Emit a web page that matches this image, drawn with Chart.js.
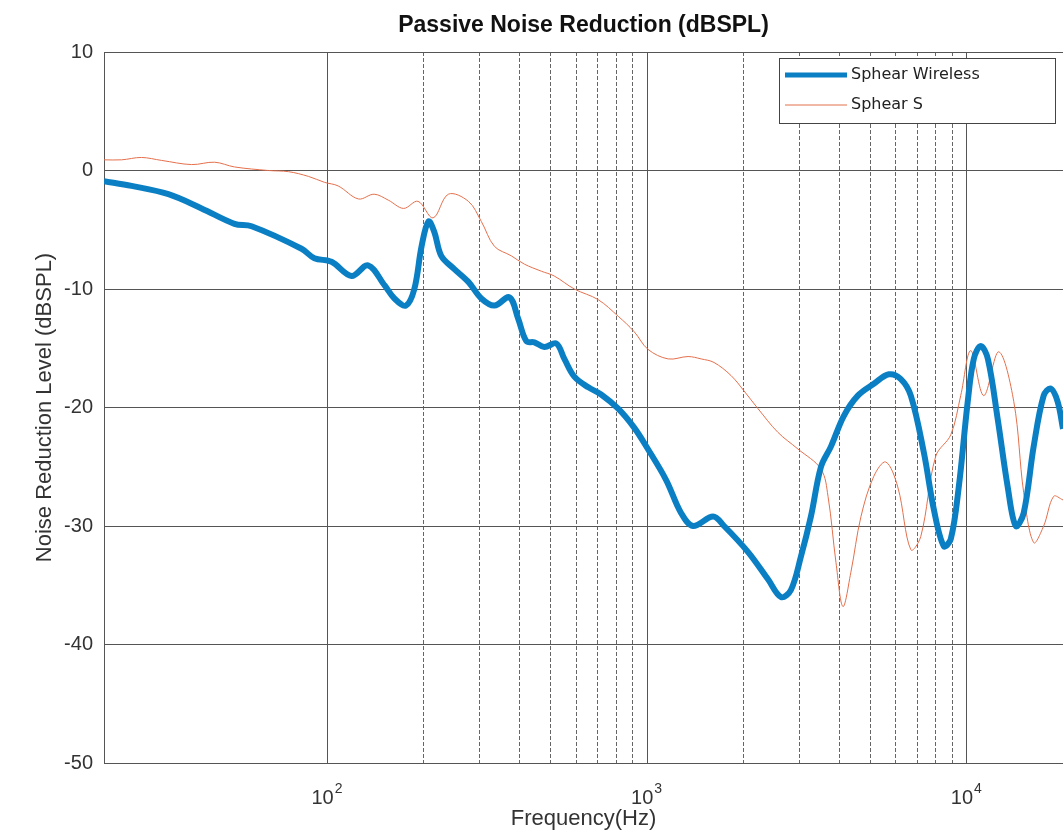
<!DOCTYPE html>
<html>
<head>
<meta charset="utf-8">
<title>Passive Noise Reduction</title>
<script src="https://cdn.jsdelivr.net/npm/chart.js@4.4.1/dist/chart.umd.min.js"></script>
<style>
  html, body { margin: 0; padding: 0; background: #fff; }
  #wrap { width: 1063px; height: 832px; }
</style>
</head>
<body>
<div id="wrap"><canvas id="myChart" width="1063" height="832"></canvas></div>
<script>
// values (Hz, dBSPL)
const wirelessFreq = [20, 24.4, 31.8, 40.4, 51.2, 57.9, 83, 91, 103, 119, 134, 151, 162, 176, 187, 197, 207, 216, 227, 249, 276, 303, 333, 371, 395, 419, 444, 477, 520, 551, 592, 655, 718, 812, 911, 1000, 1146, 1277, 1392, 1608, 1741, 2070, 2389, 2624, 2818, 3027, 3254, 3499, 3758, 4126, 4563, 5120, 5705, 6219, 6683, 7341, 7888, 8474, 8913, 9441, 10070, 10520, 11060, 11640, 12500, 13430, 14230, 15070, 16190, 17400, 18300, 19240, 20000]
const wirelessDb = [-0.9, -1.3, -2.0, -3.2, -4.5, -4.7, -6.6, -7.4, -7.7, -8.9, -8.0, -9.7, -10.8, -11.4, -10.0, -6.4, -4.3, -5.2, -7.2, -8.3, -9.4, -10.8, -11.4, -10.7, -12.5, -14.4, -14.5, -14.9, -14.6, -15.9, -17.4, -18.3, -18.9, -20.1, -21.7, -23.4, -26.1, -28.9, -30.0, -29.2, -30.0, -32.2, -34.5, -36.0, -35.4, -32.6, -29.2, -25.0, -23.3, -20.7, -19.0, -18.0, -17.2, -17.6, -19.0, -23.8, -28.6, -31.7, -31.1, -26.7, -19.5, -15.9, -14.8, -15.9, -21.0, -26.7, -30.0, -28.9, -23.3, -19.0, -18.4, -19.5, -21.8]

const sphearSFreq = [20, 22.7, 26.2, 30.3, 37.6, 44.4, 51.2, 65.4, 75.6, 87.3, 97.9, 108, 125, 140, 155, 173, 192, 214, 239, 276, 303, 333, 376, 413, 467, 512, 592, 703, 812, 911, 1007, 1164, 1343, 1476, 1619, 1830, 2010, 2223, 2566, 2963, 3499, 3681, 3899, 4098, 4340, 4667, 5120, 5580, 6083, 6683, 7178, 8000, 8913, 9572, 10290, 11300, 12590, 14030, 15070, 16190, 17400, 18700, 20000]
const sphearSDb = [0.9, 0.9, 1.1, 0.85, 0.5, 0.7, 0.3, 0.0, -0.1, -0.5, -1.0, -1.3, -2.4, -2.0, -2.5, -3.2, -2.6, -4.0, -2.0, -2.6, -4.3, -6.4, -7.2, -7.9, -8.5, -8.9, -10.0, -10.9, -12.3, -13.6, -15.1, -15.9, -15.7, -15.9, -16.2, -17.3, -18.6, -20.1, -22.1, -23.5, -25.2, -27.5, -33.1, -36.8, -33.9, -29.2, -25.8, -24.6, -26.7, -32.0, -30.9, -24.1, -22.3, -19.0, -15.2, -19.0, -15.3, -19.5, -27.2, -31.4, -30.0, -27.5, -27.8]

const gridFreqs = [100, 200, 300, 400, 500, 600, 700, 800, 900, 1000, 2000, 3000, 4000, 5000, 6000, 7000, 8000, 9000, 10000]
const decadeTicks = [100, 1000, 10000]
const decadeExps = ['2', '3', '4']
const yTicks = [-50, -40, -30, -20, -10, 0, 10]

const seriesNames = ['Sphear Wireless', 'Sphear S']
const seriesColors = ['#0a7fc4', '#e4704c']

function toPoints(xs, ys) {
    const pts = []
    for (let i = 0; i < xs.length; i++) {
        pts.push({ x: xs[i], y: ys[i] })
    }
    return pts
}

function isDecade(v) {
    return decadeTicks.indexOf(v) !== -1
}

const ARIAL = '"Liberation Sans", Arial, sans-serif'

// x labels with superscript and the boxed legend
const extrasPlugin = {
    id: 'extras',
    afterDraw(chart) {
        const ctx = chart.ctx
        const xs = chart.scales.x
        ctx.save()
        ctx.fillStyle = '#333'
        ctx.textBaseline = 'alphabetic'
        ctx.textAlign = 'left'
        decadeTicks.forEach(function (v, i) {
            const px = xs.getPixelForValue(v)
            ctx.font = '20px ' + ARIAL
            const w1 = ctx.measureText('10').width
            ctx.font = '14px ' + ARIAL
            const w2 = ctx.measureText(decadeExps[i]).width
            const left = px - (w1 + w2) / 2 - 1
            ctx.font = '20px ' + ARIAL
            ctx.fillText('10', left, 804)
            ctx.font = '14px ' + ARIAL
            ctx.fillText(decadeExps[i], left + w1 + 1, 793)
        })

        // legend
        const bx = 779, by = 58, bw = 276, bh = 65
        ctx.fillStyle = '#fff'
        ctx.fillRect(bx, by, bw, bh)
        ctx.strokeStyle = '#444'
        ctx.lineWidth = 1
        ctx.strokeRect(bx + 0.5, by + 0.5, bw, bh)
        const rows = [75, 105]
        const widths = [5, 1]
        ctx.font = '16px "DejaVu Sans", sans-serif'
        ctx.textBaseline = 'middle'
        for (let i = 0; i < seriesNames.length; i++) {
            ctx.strokeStyle = seriesColors[i]
            ctx.lineWidth = widths[i]
            ctx.beginPath()
            ctx.moveTo(785, rows[i])
            ctx.lineTo(847, rows[i])
            ctx.stroke()
            ctx.fillStyle = '#222'
            ctx.fillText(seriesNames[i], 851, rows[i])
        }
        ctx.restore()
    }
}

new Chart(document.getElementById('myChart'), {
    type: 'line',
    data: {
        datasets: [{
            label: seriesNames[0],
            data: toPoints(wirelessFreq, wirelessDb),
            borderColor: seriesColors[0],
            borderWidth: 6,
            pointRadius: 0,
            tension: 0.35,
            fill: false
        }, {
            label: seriesNames[1],
            data: toPoints(sphearSFreq, sphearSDb),
            borderColor: seriesColors[1],
            borderWidth: 1,
            pointRadius: 0,
            tension: 0.35,
            fill: false
        }]
    },
    options: {
        responsive: false,
        devicePixelRatio: 1,
        animation: false,
        layout: { padding: { left: 0, right: 0, top: 0, bottom: 0 } },
        plugins: {
            legend: { display: false },
            tooltip: { enabled: false },
            title: {
                display: true,
                fullSize: false,
                text: 'Passive Noise Reduction (dBSPL)',
                color: '#111',
                font: { family: ARIAL, size: 23, weight: 'bold' },
                padding: { top: 12, bottom: 12.4 }
            }
        },
        scales: {
            x: {
                type: 'logarithmic',
                min: 20,
                max: 20000,
                afterBuildTicks(scale) {
                    scale.ticks = gridFreqs.map(v => ({ value: v }))
                },
                afterFit(scale) { scale.height = 69 },
                ticks: { display: false },
                grid: {
                    drawTicks: false,
                    color: ctx => (ctx.tick && isDecade(ctx.tick.value)) ? '#555' : '#666',
                    lineWidth: 1
                },
                border: {
                    color: '#555',
                    dash: ctx => (ctx.tick && !isDecade(ctx.tick.value)) ? [4, 2] : []
                },
                title: {
                    display: true,
                    text: 'Frequency(Hz)',
                    color: '#333',
                    font: { family: ARIAL, size: 22 },
                    padding: { top: 0, bottom: 0 }
                }
            },
            y: {
                min: -50,
                max: 10,
                afterBuildTicks(scale) {
                    scale.ticks = yTicks.map(v => ({ value: v }))
                },
                afterFit(scale) { scale.width = 104 },
                ticks: {
                    color: '#333',
                    font: { family: ARIAL, size: 20 },
                    padding: 11
                },
                grid: { drawTicks: false, color: '#555', lineWidth: 1 },
                border: { color: '#555' },
                title: {
                    display: true,
                    text: 'Noise Reduction Level (dBSPL)',
                    color: '#333',
                    font: { family: ARIAL, size: 22 },
                    padding: { top: 32, bottom: 0 }
                }
            }
        }
    },
    plugins: [extrasPlugin]
})
</script>
</body>
</html>
